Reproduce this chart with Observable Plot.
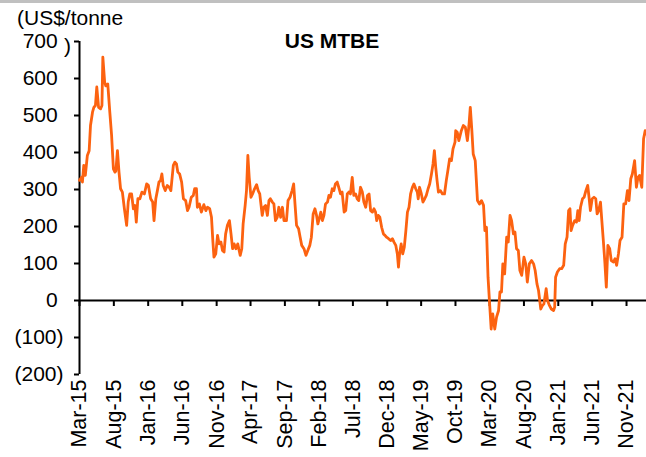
<!DOCTYPE html>
<html><head><meta charset="utf-8">
<script src="https://cdn.jsdelivr.net/npm/d3@7"></script>
<script src="https://cdn.jsdelivr.net/npm/@observablehq/plot@0.6"></script>
<style>
body{margin:0;background:#fff;}
#wrap{position:relative;width:646px;height:457px;overflow:hidden;font-family:"Liberation Sans",Arial,sans-serif;color:#000;}
#topline{position:absolute;left:0;top:0;width:646px;height:3px;background:#c0c0c0;}
.t{position:absolute;font-size:21px;line-height:24px;white-space:nowrap;}
#title{top:29px;left:232px;width:200px;text-align:center;font-weight:bold;}
#unit1{top:6px;left:17px;}
#unit2{top:34px;left:64px;}
</style></head>
<body>
<div id="wrap">
<div id="chart"></div>
<div id="topline"></div>
<div class="t" id="title">US MTBE</div>
<div class="t" id="unit1">(US$/tonne</div>
<div class="t" id="unit2">)</div>
</div>
<script>
const dates = ["2015-03-01","2015-03-10","2015-03-14","2015-03-20","2015-03-27","2015-04-05","2015-04-13","2015-04-19","2015-04-28","2015-05-04","2015-05-11","2015-05-17","2015-05-25","2015-06-03","2015-06-09","2015-06-13","2015-06-21","2015-06-26","2015-07-05","2015-07-14","2015-07-22","2015-07-30","2015-08-06","2015-08-10","2015-08-17","2015-08-24","2015-08-31","2015-09-08","2015-09-17","2015-09-27","2015-10-04","2015-10-11","2015-10-19","2015-10-27","2015-11-03","2015-11-09","2015-11-16","2015-11-25","2015-12-04","2015-12-15","2015-12-25",
"2016-01-02","2016-01-12","2016-01-21","2016-01-27","2016-02-04","2016-02-11","2016-02-18","2016-02-25","2016-03-02","2016-03-08","2016-03-17","2016-03-26","2016-04-04","2016-04-11","2016-04-22","2016-04-29","2016-05-06","2016-05-12","2016-05-20","2016-05-29","2016-06-06","2016-06-16","2016-06-24","2016-07-01","2016-07-11","2016-07-20","2016-07-26","2016-08-03","2016-08-07","2016-08-16","2016-08-25","2016-09-05","2016-09-14","2016-09-21","2016-10-01","2016-10-09","2016-10-15","2016-10-20","2016-10-28","2016-11-05","2016-11-12","2016-11-20","2016-11-27","2016-12-04","2016-12-11","2016-12-19","2016-12-28",
"2017-01-04","2017-01-11","2017-01-18","2017-01-26","2017-02-03","2017-02-14","2017-02-21","2017-02-27","2017-03-08","2017-03-14","2017-03-20","2017-03-26","2017-04-03","2017-04-10","2017-04-19","2017-04-28","2017-05-05","2017-05-12","2017-05-23","2017-05-30","2017-06-07","2017-06-15","2017-06-22","2017-06-28","2017-07-07","2017-07-14","2017-07-21","2017-07-29","2017-08-05","2017-08-13","2017-08-21","2017-08-28","2017-09-08","2017-09-15","2017-09-24","2017-10-03","2017-10-10","2017-10-16","2017-10-23","2017-11-01","2017-11-08","2017-11-15","2017-11-25","2017-12-04","2017-12-12","2017-12-21","2017-12-28",
"2018-01-05","2018-01-13","2018-01-20","2018-01-26","2018-02-01","2018-02-08","2018-02-15","2018-02-22","2018-03-01","2018-03-10","2018-03-16","2018-03-23","2018-03-31","2018-04-07","2018-04-14","2018-04-22","2018-04-29","2018-05-07","2018-05-14","2018-05-23","2018-05-30","2018-06-06","2018-06-13","2018-06-20","2018-06-28","2018-07-05","2018-07-13","2018-07-20","2018-07-27","2018-08-04","2018-08-12","2018-08-19","2018-08-27","2018-09-04","2018-09-11","2018-09-18","2018-09-26","2018-10-03","2018-10-10","2018-10-15","2018-10-22","2018-10-29","2018-11-06","2018-11-14","2018-11-21","2018-11-28","2018-12-07","2018-12-16","2018-12-24","2018-12-31",
"2019-01-08","2019-01-15","2019-01-20","2019-01-25","2019-02-01","2019-02-08","2019-02-15","2019-02-22","2019-03-01","2019-03-08","2019-03-15","2019-03-23","2019-03-30","2019-04-07","2019-04-14","2019-04-18","2019-04-24","2019-05-02","2019-05-09","2019-05-17","2019-05-24","2019-06-01","2019-06-08","2019-06-16","2019-06-23","2019-06-29","2019-07-05","2019-07-11","2019-07-17","2019-07-26","2019-08-04","2019-08-13","2019-08-21","2019-08-28","2019-09-05","2019-09-13","2019-09-20","2019-09-29","2019-10-02","2019-10-09","2019-10-16","2019-10-27","2019-11-05","2019-11-14","2019-11-23","2019-11-30","2019-12-06","2019-12-13","2019-12-19","2019-12-28",
"2020-01-07","2020-01-16","2020-01-25","2020-02-03","2020-02-09","2020-02-16","2020-02-23","2020-03-02","2020-03-08","2020-03-15","2020-03-24","2020-04-01","2020-04-10","2020-04-16","2020-04-23","2020-04-29","2020-05-07","2020-05-16","2020-05-23","2020-05-31","2020-06-07","2020-06-15","2020-06-22","2020-06-29","2020-07-07","2020-07-14","2020-07-22","2020-08-01","2020-08-09","2020-08-16","2020-08-25","2020-09-04","2020-09-13","2020-09-20","2020-09-28","2020-10-05","2020-10-15","2020-10-22","2020-10-29","2020-11-08","2020-11-14","2020-11-23","2020-12-01","2020-12-11","2020-12-16","2020-12-20","2020-12-28",
"2021-01-07","2021-01-16","2021-01-25","2021-02-01","2021-02-09","2021-02-16","2021-02-22","2021-02-27","2021-03-06","2021-03-15","2021-03-23","2021-03-29","2021-04-04","2021-04-10","2021-04-19","2021-04-26","2021-05-04","2021-05-12","2021-05-18","2021-05-24","2021-06-01","2021-06-09","2021-06-17","2021-06-23","2021-06-30","2021-07-08","2021-07-14","2021-07-20","2021-07-27","2021-08-03","2021-08-10","2021-08-18","2021-08-25","2021-09-04","2021-09-11","2021-09-18","2021-09-26","2021-10-03","2021-10-12","2021-10-20","2021-10-28","2021-11-05","2021-11-12","2021-11-20","2021-11-27","2021-12-07","2021-12-15","2021-12-22","2021-12-29",
"2022-01-08","2022-01-16","2022-01-23","2022-01-28"];

const prices = [325,333,320,365,338,392,405,473,509,522,527,577,522,518,527,658,590,580,585,509,446,356,347,350,405,347,302,293,248,203,266,288,288,248,257,212,275,275,293,288,315,
311,275,266,216,275,297,320,324,342,311,297,311,306,297,365,374,369,347,342,320,275,270,243,252,279,284,302,302,252,261,239,259,243,252,248,225,162,117,126,176,153,158,135,131,180,203,216,
180,140,153,140,153,122,140,207,257,297,392,333,279,288,302,313,297,288,230,252,257,230,270,275,266,261,216,225,252,225,252,216,216,270,279,297,315,261,203,194,171,149,140,122,135,149,171,
234,248,230,207,221,239,216,230,261,266,284,279,302,297,315,320,306,288,293,239,243,288,293,288,333,284,288,275,270,306,293,266,252,284,288,243,239,248,239,216,230,225,198,180,176,171,167,162,167,158,
149,126,90,126,153,126,144,189,239,252,288,306,315,302,293,275,306,288,266,275,284,302,315,342,369,405,360,324,293,297,288,288,324,351,383,378,410,428,459,455,432,459,473,468,432,473,522,459,396,378,
270,261,270,257,189,198,63,-18,-77,-36,-77,-45,-27,23,23,99,72,171,158,230,216,180,185,140,135,81,68,117,99,50,99,108,99,81,45,27,-23,-14,-9,32,0,-14,-23,-27,-18,63,77,
86,86,95,153,171,243,248,189,203,216,212,243,216,252,275,279,297,311,279,243,275,279,275,234,243,266,216,167,108,36,149,140,108,104,113,95,126,162,171,261,261,297,270,329,342,378,306,333,338,
306,437,459,450];

const xTickLabels = ["Mar-15","Aug-15","Jan-16","Jun-16","Nov-16","Apr-17","Sep-17","Feb-18","Jul-18","Dec-18","May-19","Oct-19","Mar-20","Aug-20","Jan-21","Jun-21","Nov-21"];
const yTicks = [-200,-100,0,100,200,300,400,500,600,700];
const xDomain = ["2015-03-01","2022-01-29"];

const parseTick = d3.utcParse("%b-%y");
const xTicks = xTickLabels.map(parseTick);
const data = dates.map((d, i) => ({date: new Date(d), value: prices[i]}));
const xStart = new Date(xDomain[0]);
const xEnd = new Date(xDomain[1]);
const yFmt = d => d < 0 ? `(${-d})` : `${d}\u00A0`;

const chart = Plot.plot({
  width: 646,
  height: 457,
  marginLeft: 79,
  marginRight: 0,
  marginTop: 41,
  marginBottom: 83,
  style: {fontFamily: "'Liberation Sans', Arial, sans-serif", fontSize: "21px", color: "#000", background: "transparent", overflow: "visible"},
  x: {type: "utc", domain: [xStart, xEnd]},
  y: {domain: [-200, 700]},
  marks: [
    Plot.ruleY([0], {stroke: "#000", strokeWidth: 2}),
    Plot.ruleX(xTicks, {x: d => d, y1: 0, y2: 0, insetBottom: -6, stroke: "#000", strokeWidth: 2}),
    Plot.ruleX([xStart], {stroke: "#000", strokeWidth: 2}),
    Plot.axisY({ticks: yTicks, tickSize: 5, tickPadding: 11, tickFormat: yFmt, label: null, strokeWidth: 2, fontSize: 21}),
    Plot.axisX({ticks: xTicks, tickSize: 0, tickRotate: -90, tickPadding: 5, tickFormat: d3.utcFormat("%b-%y"), label: null, fontSize: 21.5}),
    Plot.lineY(data, {x: "date", y: "value", stroke: "#fc6210", strokeWidth: 2.8})
  ]
});
document.getElementById("chart").appendChild(chart);
</script>
</body></html>
